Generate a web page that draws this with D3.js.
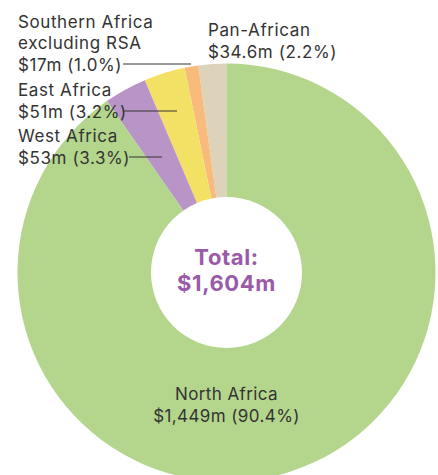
<!DOCTYPE html>
<html><head><meta charset="utf-8">
<script src="https://cdn.jsdelivr.net/npm/d3@7"></script>
<style>body{margin:0;background:#fff}svg{display:block}</style>
</head><body>
<svg id="c" width="438" height="475"></svg>
<script>
const regions = ["Pan-African", "Southern Africa excluding RSA", "East Africa", "West Africa", "North Africa"];
const values = [34.6, 17, 51, 53, 1449];
const valueLabels = ["$34.6m (2.2%)", "$17m (1.0%)", "$51m (3.2%)", "$53m (3.3%)", "$1,449m (90.4%)"];
const colors = ["#ddd3bb", "#f8bb7c", "#f3e166", "#b995c7", "#b3d68c"];
const totalLabel = ["Total:", "$1,604m"];

const svg = d3.select("#c");
const cx = 226.5, cy = 272.5, R = 209, r = 75.5;
const g = svg.append("g").attr("transform", `translate(${cx},${cy})`);
const pie = d3.pie().sort(null).value(d => d).startAngle(0).endAngle(-2 * Math.PI);
const arc = d3.arc().innerRadius(0).outerRadius(R);
const arcs = pie(values);
g.selectAll("path").data(arcs).join("path").attr("d", arc).attr("fill", (d, i) => colors[i]);
g.append("circle").attr("r", r).attr("fill", "#fff");

const font = "Inter, 'Noto Sans', sans-serif";
const txt = "#333";
g.selectAll("text.total").data(totalLabel).join("text")
  .attr("x", 0).attr("y", (d, i) => -7.5 + i * 26)
  .attr("text-anchor", "middle").attr("font-family", font).attr("font-weight", 700)
  .attr("font-size", 22).attr("letter-spacing", 0.6).attr("fill", "#9b5aa8").text(d => d);

// Labels
const labels = [
  {lines: ["Pan-African", valueLabels[0]], x: 208, y: 36},
  {lines: ["Southern Africa", "excluding RSA", valueLabels[1]], x: 18, y: 27.5, lead: [123, 191]},
  {lines: ["East Africa", valueLabels[2]], x: 18, y: 96, lead: [123, 177]},
  {lines: ["West Africa", valueLabels[3]], x: 18, y: 142, lead: [129, 162]}
];
labels.forEach(l => {
  const t = svg.append("text").attr("font-family", font).attr("font-size", 17)
    .attr("letter-spacing", 0.6).attr("fill", txt);
  l.lines.forEach((s, i) => t.append("tspan").attr("x", l.x).attr("y", l.y + i * 21.5).text(s));
  if (l.lead) {
    const ly = l.y + (l.lines.length - 1) * 21.5 - 6.5;
    svg.append("line").attr("x1", l.lead[0]).attr("x2", l.lead[1]).attr("y1", ly).attr("y2", ly)
      .attr("stroke", "#333").attr("stroke-width", 1);
  }
});
const nt = svg.append("text").attr("font-family", font).attr("font-size", 17)
  .attr("letter-spacing", 0.4).attr("fill", txt).attr("text-anchor", "middle");
[regions[4], valueLabels[4]].forEach((s, i) => nt.append("tspan").attr("x", cx).attr("y", 400 + i * 22).text(s));
</script>
</body></html>
